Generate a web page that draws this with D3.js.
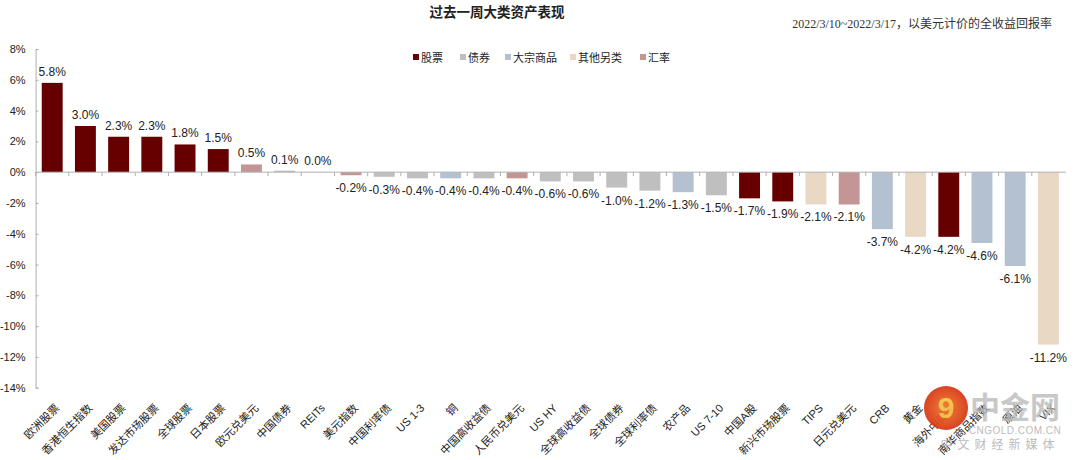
<!DOCTYPE html>
<html><head><meta charset="utf-8">
<script src="https://cdn.jsdelivr.net/npm/d3@7"></script>
<style>
body{margin:0;background:#fff;}
text{font-family:"Liberation Sans","Noto Sans CJK SC",sans-serif;}
</style></head>
<body><svg id="c" width="1080" height="460"></svg>
<script>
const categories = ["欧洲股票","香港恒生指数","美国股票","发达市场股票","全球股票","日本股票","欧元兑美元","中国债券","REITs","美元指数","中国利率债","US 1-3","铜","中国高收益债","人民币兑美元","US HY","全球高收益债","全球债券","全球利率债","农产品","US 7-10","中国A股","新兴市场股票","TIPS","日元兑美元","CRB","黄金","海外中概股","南华商品指数","原油","VIX"];
const values = [5.8,3.0,2.3,2.3,1.8,1.5,0.5,0.1,0.0,-0.2,-0.3,-0.4,-0.4,-0.4,-0.4,-0.6,-0.6,-1.0,-1.2,-1.3,-1.5,-1.7,-1.9,-2.1,-2.1,-3.7,-4.2,-4.2,-4.6,-6.1,-11.2];
const groups = ["股票","股票","股票","股票","股票","股票","汇率","债券","其他另类","汇率","债券","债券","大宗商品","债券","汇率","债券","债券","债券","债券","大宗商品","债券","股票","股票","其他另类","汇率","大宗商品","其他另类","股票","大宗商品","大宗商品","其他另类"];
const legendNames = ["股票","债券","大宗商品","其他另类","汇率"];
const legendColors = ["#660000","#bfbfbf","#b4c1d1","#e9d9c4","#c49595"];
const yTicks = [8,6,4,2,0,-2,-4,-6,-8,-10,-12,-14];
const title = "过去一周大类资产表现";
const subtitle = "2022/3/10~2022/3/17，以美元计价的全收益回报率";

const svg = d3.select("#c");
const color = d3.scaleOrdinal().domain(legendNames).range(legendColors);
const y = d3.scaleLinear().domain([-14,8]).range([387.7,49]);
const x = d3.scaleBand().domain(categories).range([35.6,1065]).paddingInner(0.37).paddingOuter(0.185);

// title
svg.append("text").attr("x",497).attr("y",17).attr("text-anchor","middle")
  .attr("font-size",13.5).attr("font-weight","bold").attr("fill","#222").text(title);
svg.append("text").attr("x",1052).attr("y",28).attr("text-anchor","end")
  .attr("font-size",12).attr("fill","#333")
  .style("font-family","'Liberation Serif','Noto Sans CJK SC',serif").text(subtitle);

// y axis
const yAxis = d3.axisLeft(y).tickValues(yTicks).tickFormat(d=>d+"%").tickSize(-3).tickPadding(10);
const gy = svg.append("g").attr("transform","translate(35.6,0)").call(yAxis);
gy.select(".domain").attr("stroke","#b0b0b0");
gy.selectAll(".tick line").attr("stroke","#b0b0b0");
gy.selectAll(".tick text").attr("font-size",11).attr("fill","#222").attr("font-family","'Liberation Sans',sans-serif");

// bars
const data = categories.map((c,i)=>({c,v:values[i],g:groups[i]}));
svg.append("g").selectAll("rect").data(data).join("rect")
  .attr("x",d=>x(d.c)).attr("width",x.bandwidth())
  .attr("y",d=>y(Math.max(0,d.v))).attr("height",d=>Math.abs(y(d.v)-y(0)))
  .attr("fill",d=>color(d.g));

// zero axis with ticks
const xAxis = d3.axisBottom(x).tickSize(4).tickFormat("");
const gx = svg.append("g").attr("transform",`translate(0,${y(0)})`).call(xAxis);
gx.select(".domain").attr("stroke","#b0b0b0").attr("d",`M35.6,0H1066`);
gx.selectAll(".tick").attr("transform",d=>`translate(${x(d)-x.step()*x.paddingInner()/2},0)`);
gx.selectAll(".tick line").attr("stroke","#b0b0b0");

// value labels
svg.append("g").selectAll("text").data(data).join("text")
  .attr("x",d=>x(d.c)+x.bandwidth()/2)
  .attr("y",d=>d.v>=0? y(d.v)-7 : y(d.v)+17)
  .attr("text-anchor","middle").attr("font-size",12).attr("fill","#222")
  .text(d=>d.v.toFixed(1)+"%");

// category labels
svg.append("g").selectAll("text").data(data).join("text")
  .attr("transform",d=>`translate(${x(d.c)+x.bandwidth()/2+5},${406}) rotate(-45)`)
  .attr("text-anchor","end").attr("font-size",11).attr("fill","#222").attr("dy","0.35em")
  .text(d=>d.c);

// legend
const lx = [413,460,505,570,640];
const lg = svg.append("g");
legendNames.forEach((n,i)=>{
  lg.append("rect").attr("x",lx[i]).attr("y",54).attr("width",6).attr("height",6).attr("fill",legendColors[i]);
  lg.append("text").attr("x",lx[i]+8).attr("y",62).attr("font-size",11).attr("fill","#222").text(n);
});

// watermark
const wm = svg.append("g").attr("opacity",0.95);
const grad = svg.append("defs").append("radialGradient").attr("id","wg");
grad.append("stop").attr("offset","0%").attr("stop-color","#f07a2a");
grad.append("stop").attr("offset","100%").attr("stop-color","#d83a1a");
wm.append("circle").attr("cx",946).attr("cy",408).attr("r",22).attr("fill","url(#wg)");
wm.append("text").attr("x",946).attr("y",418).attr("text-anchor","middle").attr("font-size",30).attr("font-weight","bold").attr("fill","#f6c14a").text("9");
wm.append("text").attr("x",1015).attr("y",418).attr("text-anchor","middle").attr("font-size",30).attr("font-weight","bold").attr("fill","#b8b8b8").attr("opacity",0.8).text("中金网");
wm.append("text").attr("x",1015).attr("y",434).attr("text-anchor","middle").attr("font-size",10).attr("fill","#b8b8b8").attr("letter-spacing","0.5").text("CNGOLD.COM.CN");
wm.append("text").attr("x",1000).attr("y",449).attr("text-anchor","middle").attr("font-size",12).attr("fill","#b8b8b8").attr("letter-spacing","5").text("中文财经新媒体");
</script></body></html>
